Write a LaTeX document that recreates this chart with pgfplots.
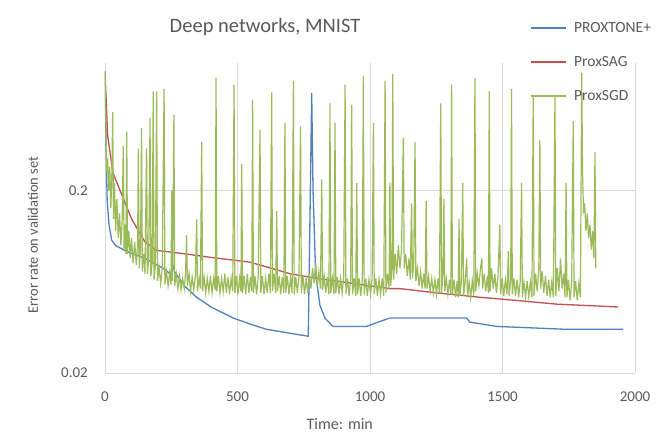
\documentclass[border=0pt]{standalone}
\usepackage{pgfplots}
\pgfplotsset{compat=1.18}
\usepackage{fontspec}
\setmainfont{Carlito}
\definecolor{txt}{RGB}{89,89,89}
\definecolor{gridc}{RGB}{217,217,217}
\definecolor{cblue}{RGB}{79,129,189}
\definecolor{cred}{RGB}{192,80,77}
\definecolor{cgreen}{RGB}{155,187,89}
\begin{document}
\begin{tikzpicture}
\path[use as bounding box] (-105pt,-63pt) rectangle (559pt,373pt);
\begin{axis}[
  scale only axis, width=530pt, height=310pt,
  at={(0pt,0pt)}, anchor=south west,
  xmin=0, xmax=2000, ymode=log, ymin=0.02, ymax=1,
  xtick={0,500,1000,1500,2000},
  ytick={0.02,0.2}, yticklabels={0.02,0.2},
  /pgf/number format/assume math mode=true,
  /pgf/number format/1000 sep={},
  major tick length=0pt, minor tick length=0pt, minor tick num=0,
  tick style={draw=none}, minor tick style={draw=none},
  ymajorgrids, xmajorgrids, major grid style={gridc, line width=0.8pt},
  axis lines*=left,
  x axis line style={gridc, line width=0.8pt, -},
  y axis line style={draw=none},
  tick label style={font=\fontsize{15}{18}\selectfont, text=txt},
  xticklabel style={anchor=center, yshift=-24pt},
  yticklabel style={anchor=east, inner sep=0pt, xshift=-17pt},
  title={Deep networks, MNIST},
  title style={at={(axis description cs:0.302,1.097)}, anchor=center, font=\fontsize{20.5}{24}\selectfont, text=txt},
  xlabel={Time: min},
  xlabel style={at={(axis description cs:0.443,-0.165)}, anchor=center, font=\fontsize{16}{19}\selectfont, text=txt},
  ylabel={Error rate on validation set},
  ylabel style={at={(axis description cs:-0.136,0.445)}, anchor=center, rotate=0, font=\fontsize{14.5}{17}\selectfont, text=txt},
  legend cell align=left,
  legend style={at={(axis description cs:0.8019,1.1387)}, anchor=north west, draw=none, fill=none,
    inner sep=0pt, column sep=7pt, row sep=18pt,
    nodes={inner sep=0pt, text height=12pt, text depth=4pt, text=txt},
    font=\fontsize{15.5}{18}\selectfont},
  legend image code/.code={\draw[#1, line width=2pt] (0pt,0pt) -- (35pt,0pt);},
]
\addplot[cblue, line width=1.3pt] coordinates {
(0,0.9)(3,0.45)(8,0.18)(15,0.13)(25,0.107)(40,0.1)(80,0.093)(150,0.085)(220,0.075)(250,0.069)(255,0.08)(262,0.072)(300,0.06)(346,0.052)(400,0.046)(484,0.040)(550,0.037)(610,0.0347)(700,0.033)(767,0.0318)(775,0.2)(780,0.686)(785,0.2)(795,0.07)(811,0.047)(830,0.040)(860,0.036)(987,0.036)(1030,0.038)(1075,0.040)(1365,0.040)(1377,0.038)(1478,0.036)(1742,0.0347)(1955,0.0347)
};
\addlegendentry{PROXTONE+}
\addplot[cred, line width=1.3pt] coordinates {
(0,0.9)(10,0.4)(30,0.25)(57,0.2)(100,0.14)(150,0.105)(195,0.094)(300,0.09)(400,0.086)(547,0.081)(600,0.077)(698,0.070)(800,0.066)(900,0.063)(1075,0.058)(1113,0.058)(1250,0.055)(1415,0.052)(1550,0.05)(1704,0.0477)(1800,0.047)(1936,0.046)
};
\addlegendentry{ProxSAG}
\addplot[cgreen, line width=1.2pt] coordinates {
(0,0.9)(3,0.5)(6,0.25)(10,0.3)(14,0.2)(18,0.27)(22,0.16)(26,0.25)(29,0.54)(32,0.14)(36,0.22)(40,0.12)(45,0.18)(50,0.11)(55,0.15)(60,0.10)(65,0.14)(69,0.35)(72,0.095)(76,0.13)(79,0.09)(82,0.42)(85,0.09)(90,0.12)(95,0.085)(100,0.11)(106,0.08)(112,0.105)(118,0.078)(123,0.10)(126,0.34)(129,0.075)(134,0.095)(138,0.44)(141,0.072)(146,0.09)(151,0.07)(157,0.34)(160,0.07)(165,0.085)(170,0.50)(173,0.068)(178,0.08)(182,0.70)(185,0.065)(190,0.078)(195,0.70)(198,0.064)(204,0.076)(210,0.062)(216,0.074)(223,0.72)(226,0.061)(232,0.072)(238,0.06)(244,0.071)(249,0.061)(252,0.20)(255,0.064)(260,0.52)(263,0.06)(269,0.07)(275,0.058)(281,0.068)(287,0.057)(293,0.066)(299,0.058)(304,0.07)(308,0.114)(311,0.06)(317,0.07)(323,0.056)(329,0.067)(335,0.057)(341,0.068)(346,0.139)(349,0.056)(355,0.066)(360,0.058)(365,0.37)(368,0.056)(374,0.067)(380,0.055)(386,0.066)(392,0.056)(398,0.068)(404,0.055)(410,0.066)(416,0.057)(419,0.83)(422,0.056)(428,0.068)(434,0.055)(440,0.066)(446,0.056)(452,0.07)(458,0.055)(464,0.067)(470,0.054)(476,0.066)(482,0.056)(487,0.76)(490,0.055)(496,0.068)(502,0.054)(508,0.066)(513,0.056)(516,0.28)(519,0.055)(525,0.068)(531,0.054)(537,0.07)(543,0.055)(549,0.067)(554,0.056)(557,0.63)(560,0.055)(566,0.068)(572,0.054)(578,0.067)(585,0.43)(588,0.055)(594,0.068)(600,0.054)(606,0.066)(612,0.055)(618,0.07)(624,0.055)(629,0.69)(632,0.056)(638,0.07)(644,0.055)(648,0.154)(651,0.056)(657,0.068)(663,0.054)(669,0.067)(675,0.055)(679,0.47)(682,0.055)(688,0.068)(694,0.054)(700,0.066)(706,0.055)(711,0.80)(714,0.054)(720,0.067)(726,0.055)(732,0.068)(738,0.45)(741,0.055)(747,0.068)(753,0.054)(759,0.066)(765,0.055)(771,0.07)(777,0.058)(783,0.075)(789,0.062)(795,0.08)(801,0.06)(807,0.072)(813,0.058)(818,0.23)(821,0.057)(827,0.068)(833,0.055)(839,0.067)(845,0.054)(849,0.60)(852,0.055)(858,0.066)(864,0.054)(868,0.47)(871,0.055)(877,0.067)(883,0.054)(889,0.066)(895,0.055)(901,0.068)(906,0.76)(909,0.054)(915,0.066)(921,0.053)(927,0.065)(931,0.59)(934,0.054)(940,0.066)(946,0.053)(950,0.22)(953,0.054)(959,0.066)(965,0.053)(971,0.065)(975,0.85)(978,0.054)(984,0.066)(990,0.053)(996,0.065)(1002,0.054)(1008,0.066)(1013,0.47)(1016,0.054)(1022,0.066)(1028,0.053)(1034,0.065)(1040,0.054)(1046,0.066)(1052,0.053)(1057,0.80)(1060,0.055)(1066,0.07)(1072,0.058)(1075,0.22)(1078,0.06)(1083,0.075)(1086,0.87)(1089,0.065)(1095,0.09)(1101,0.07)(1107,0.1)(1113,0.075)(1119,0.095)(1126,0.39)(1129,0.075)(1135,0.09)(1141,0.068)(1147,0.085)(1152,0.065)(1157,0.17)(1160,0.066)(1165,0.08)(1170,0.37)(1173,0.064)(1179,0.075)(1185,0.06)(1191,0.072)(1197,0.058)(1203,0.07)(1208,0.058)(1212,0.175)(1215,0.058)(1221,0.068)(1227,0.056)(1233,0.066)(1239,0.055)(1245,0.065)(1251,0.054)(1257,0.066)(1262,0.055)(1267,0.60)(1270,0.055)(1275,0.068)(1279,0.18)(1282,0.056)(1288,0.066)(1294,0.054)(1300,0.065)(1305,0.054)(1308,0.76)(1311,0.054)(1317,0.065)(1323,0.052)(1329,0.064)(1333,0.052)(1336,0.14)(1339,0.053)(1345,0.064)(1350,0.22)(1353,0.053)(1359,0.063)(1365,0.085)(1368,0.052)(1374,0.063)(1380,0.052)(1386,0.064)(1392,0.053)(1396,0.83)(1399,0.056)(1405,0.07)(1411,0.06)(1417,0.075)(1422,0.085)(1425,0.058)(1431,0.07)(1437,0.056)(1443,0.068)(1447,0.055)(1450,0.70)(1453,0.056)(1459,0.075)(1465,0.058)(1471,0.07)(1477,0.055)(1483,0.067)(1490,0.13)(1493,0.054)(1499,0.066)(1505,0.053)(1511,0.065)(1517,0.054)(1522,0.093)(1525,0.053)(1531,0.065)(1534,0.72)(1537,0.054)(1543,0.066)(1549,0.053)(1555,0.065)(1561,0.052)(1567,0.064)(1572,0.22)(1575,0.052)(1581,0.063)(1587,0.052)(1593,0.064)(1599,0.052)(1605,0.063)(1611,0.052)(1616,0.66)(1619,0.053)(1625,0.07)(1631,0.056)(1637,0.075)(1641,0.38)(1644,0.058)(1650,0.072)(1656,0.055)(1662,0.068)(1668,0.053)(1674,0.065)(1680,0.052)(1686,0.063)(1692,0.052)(1698,0.66)(1701,0.053)(1707,0.075)(1713,0.056)(1719,0.085)(1725,0.058)(1731,0.07)(1736,0.052)(1740,0.22)(1743,0.052)(1749,0.065)(1755,0.05)(1761,0.063)(1767,0.48)(1770,0.052)(1776,0.064)(1782,0.05)(1788,0.062)(1794,0.052)(1799,0.885)(1802,0.25)(1806,0.15)(1810,0.17)(1815,0.12)(1820,0.15)(1825,0.11)(1830,0.13)(1835,0.095)(1840,0.12)(1845,0.085)(1849,0.325)(1852,0.075)
};
\addlegendentry{ProxSGD}
\end{axis}
\end{tikzpicture}
\end{document}
